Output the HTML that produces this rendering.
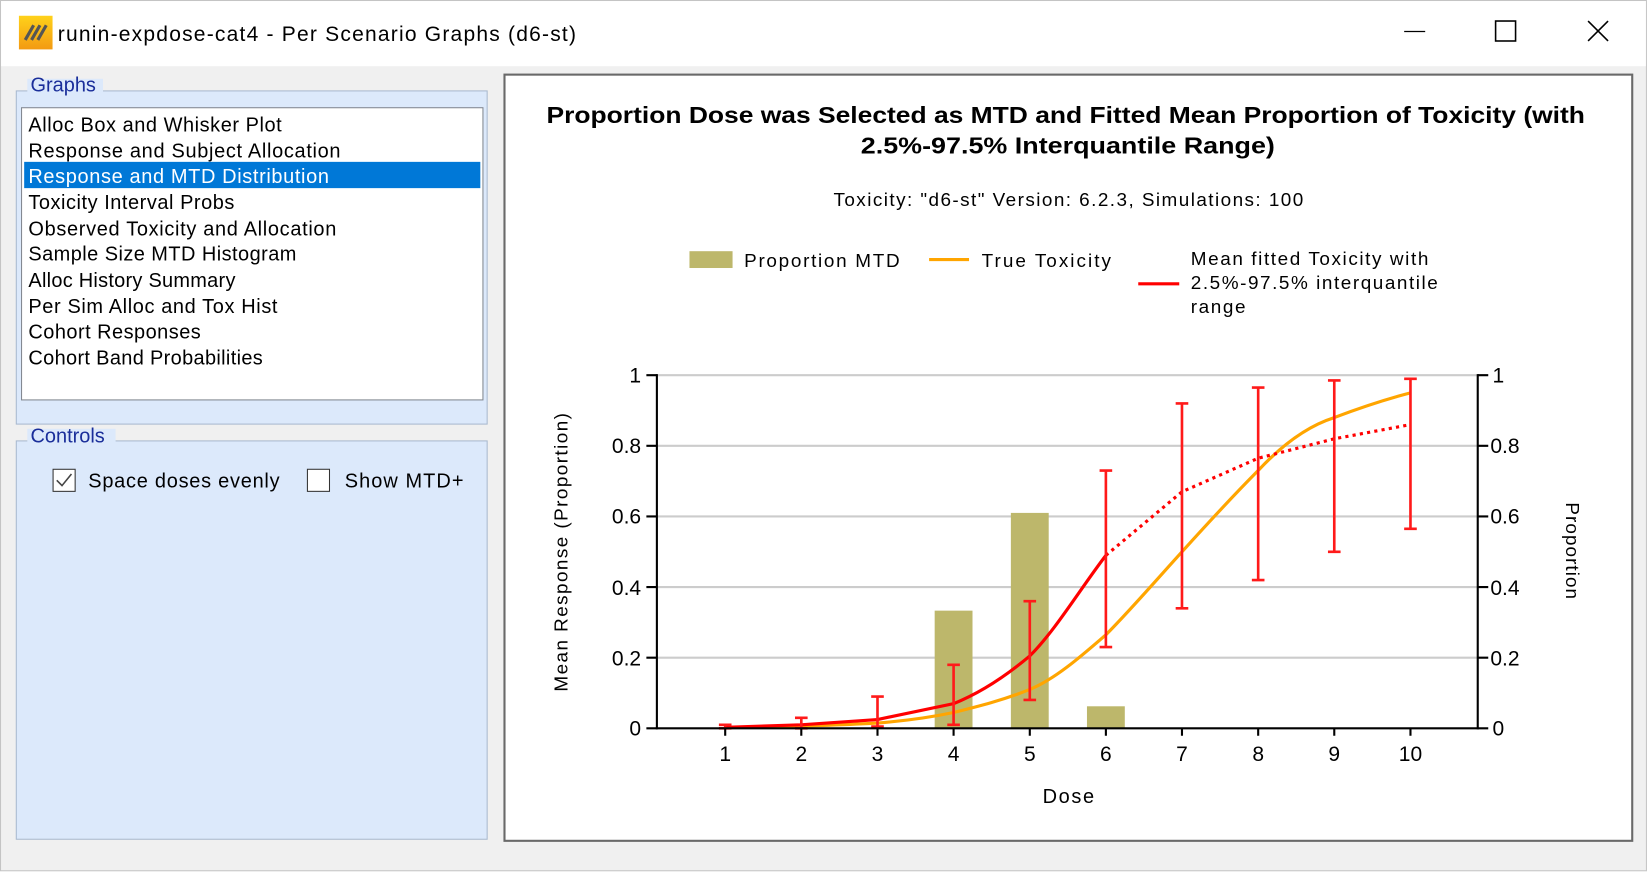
<!DOCTYPE html>
<html><head><meta charset="utf-8"><style>
html,body{margin:0;padding:0;width:1648px;height:872px;overflow:hidden;background:#fff;}
#w{position:absolute;left:0;top:0;width:1568px;height:830px;transform:scale(1.05102);transform-origin:0 0;font-family:"Liberation Sans",sans-serif;}
</style></head><body><div id="w">
<svg width="1568" height="830" viewBox="0 0 1568 830" xmlns="http://www.w3.org/2000/svg" font-family="Liberation Sans, sans-serif">
<rect x="0.5" y="0.5" width="1566" height="828" fill="#f0f0f0" stroke="#c4c4c4"/>
<rect x="1" y="1" width="1565" height="62" fill="#fff"/>
<defs><linearGradient id="ig" x1="0" y1="0" x2="0" y2="1"><stop offset="0" stop-color="#ffd21a"/><stop offset="1" stop-color="#f39a12"/></linearGradient></defs>
<rect x="18" y="15" width="32" height="32" fill="url(#ig)"/>
<path d="M24 38 L32 24 M30 38 L38 24 M36 38 L44 24" stroke="#555" stroke-width="3"/>
<text x="55" y="39" font-size="20" fill="#000" textLength="493">runin-expdose-cat4 - Per Scenario Graphs (d6-st)</text>
<line x1="1336" y1="30" x2="1356" y2="30" stroke="#000" stroke-width="1.2"/>
<rect x="1423" y="20" width="19" height="19" fill="none" stroke="#000" stroke-width="1.5"/>
<path d="M1511 20 L1530 39 M1530 20 L1511 39" stroke="#000" stroke-width="1.5"/>
<rect x="15.5" y="86.5" width="448" height="317" fill="#dce9fb" stroke="#a9b9cf"/>
<rect x="26" y="75" width="72" height="14" fill="#dce9fb"/>
<text x="29" y="87" font-size="19" fill="#1a2e9a">Graphs</text>
<rect x="20.5" y="102.5" width="439" height="278" fill="#fff" stroke="#828790"/>
<rect x="23" y="154" width="434" height="25" fill="#0078d7"/>
<g font-size="19" fill="#000">
<text x="27" y="125" textLength="241">Alloc Box and Whisker Plot</text>
<text x="27" y="150" textLength="297">Response and Subject Allocation</text>
<text x="27" y="174" fill="#fff" textLength="286">Response and MTD Distribution</text>
<text x="27" y="199" textLength="196">Toxicity Interval Probs</text>
<text x="27" y="224" textLength="293">Observed Toxicity and Allocation</text>
<text x="27" y="248" textLength="255">Sample Size MTD Histogram</text>
<text x="27" y="273" textLength="197">Alloc History Summary</text>
<text x="27" y="298" textLength="237">Per Sim Alloc and Tox Hist</text>
<text x="27" y="322" textLength="164">Cohort Responses</text>
<text x="27" y="347" textLength="223">Cohort Band Probabilities</text>
</g>
<rect x="15.5" y="419.5" width="448" height="379" fill="#dce9fb" stroke="#a9b9cf"/>
<rect x="26" y="408" width="84" height="14" fill="#dce9fb"/>
<text x="29" y="421" font-size="19" fill="#1a2e9a">Controls</text>
<rect x="50.5" y="446.5" width="21" height="21" fill="#fff" stroke="#333"/>
<path d="M54 457 L59 462 L68 451" stroke="#444" stroke-width="1.5" fill="none"/>
<text x="84" y="464" font-size="19" fill="#000" textLength="182">Space doses evenly</text>
<rect x="292.5" y="446.5" width="21" height="21" fill="#fff" stroke="#333"/>
<text x="328" y="464" font-size="19" fill="#000" textLength="113">Show MTD+</text>
<rect x="480" y="71" width="1073" height="729" fill="#fff" stroke="#696969" stroke-width="2"/>
<text x="520" y="117" font-size="22" font-weight="bold" textLength="988" lengthAdjust="spacingAndGlyphs">Proportion Dose was Selected as MTD and Fitted Mean Proportion of Toxicity (with</text>
<text x="819" y="146" font-size="22" font-weight="bold" textLength="394" lengthAdjust="spacingAndGlyphs">2.5%-97.5% Interquantile Range)</text>
<text x="793" y="196" font-size="18" textLength="447">Toxicity: "d6-st" Version: 6.2.3, Simulations: 100</text>
<rect x="656" y="239" width="41" height="16" fill="#bdb76b"/>
<text x="708" y="254" font-size="18" textLength="148">Proportion MTD</text>
<line x1="884" y1="247" x2="922" y2="247" stroke="#ffa500" stroke-width="3"/>
<text x="934" y="254" font-size="18" textLength="123">True Toxicity</text>
<line x1="1083" y1="270" x2="1122" y2="270" stroke="#ff0000" stroke-width="3"/>
<text x="1133" y="252" font-size="18" textLength="226">Mean fitted Toxicity with</text>
<text x="1133" y="275" font-size="18" textLength="235">2.5%-97.5% interquantile</text>
<text x="1133" y="298" font-size="18" textLength="52">range</text>
<g stroke="#cccccc" stroke-width="2">
<line x1="625" y1="357" x2="1406" y2="357"/><line x1="625" y1="424.2" x2="1406" y2="424.2"/>
<line x1="625" y1="491.4" x2="1406" y2="491.4"/><line x1="625" y1="558.6" x2="1406" y2="558.6"/>
<line x1="625" y1="625.8" x2="1406" y2="625.8"/>
</g>
<g fill="#bdb76b">
<rect x="889.3" y="581" width="36" height="112"/>
<rect x="961.8" y="488" width="36" height="205"/>
<rect x="1034.2" y="672" width="36" height="21"/>
</g>
<path d="M690 692.3 C714 692 738 691.6 762.4 691 C786 690 810 689.5 834.9 688 C859 686 883 683 907.3 677.9 C931 672 955 666 979.8 656 C1004 646 1028 625 1052.2 604 C1076 580 1100 552 1124.6 525 C1149 498 1173 472 1197.1 447.7 C1221 422 1245 405 1269.5 397.3 C1294 388 1318 380 1342 373.8" fill="none" stroke="#ffa500" stroke-width="3"/>
<path d="M690 692 L762.4 689.6 L834.9 684.6 L907.3 669.5 C931 660 955 645 979.8 624.1 C1004 600 1028 560 1052.2 528.4" fill="none" stroke="#ff0000" stroke-width="3"/>
<polyline points="1052.2,528.4 1124.6,467.9 1197.1,436 1269.5,417.5 1342,404" fill="none" stroke="#ff0000" stroke-width="3" stroke-dasharray="3,4"/>
<g stroke="#ff1a1a" stroke-width="2.5" fill="none">
<path d="M690 693V689.6M684 693H696M684 689.6H696"/>
<path d="M762.4 693V683M756.4 693H768.4M756.4 683H768.4"/>
<path d="M834.9 691.3V662.8M828.9 691.3H840.9M828.9 662.8H840.9"/>
<path d="M907.3 689.6V632.5M901.3 689.6H913.3M901.3 632.5H913.3"/>
<path d="M979.8 666V572M973.8 666H985.8M973.8 572H985.8"/>
<path d="M1052.2 615.7V447.7M1046.2 615.7H1058.2M1046.2 447.7H1058.2"/>
<path d="M1124.6 578.8V383.9M1118.6 578.8H1130.6M1118.6 383.9H1130.6"/>
<path d="M1197.1 551.9V368.8M1191.1 551.9H1203.1M1191.1 368.8H1203.1"/>
<path d="M1269.5 525V362M1263.5 525H1275.5M1263.5 362H1275.5"/>
<path d="M1342 503.2V360.4M1336 503.2H1348M1336 360.4H1348"/>
</g>
<g stroke="#000" stroke-width="2">
<line x1="625" y1="356" x2="625" y2="694"/>
<line x1="1406" y1="356" x2="1406" y2="694"/>
<line x1="624" y1="693" x2="1407" y2="693"/>
<path d="M615 357H625M615 424.2H625M615 491.4H625M615 558.6H625M615 625.8H625M615 693H625"/>
<path d="M1406 357H1416M1406 424.2H1416M1406 491.4H1416M1406 558.6H1416M1406 625.8H1416M1406 693H1416"/>
<path d="M690 693V700M762.4 693V700M834.9 693V700M907.3 693V700M979.8 693V700M1052.2 693V700M1124.6 693V700M1197.1 693V700M1269.5 693V700M1342 693V700"/>
</g>
<g font-size="20" text-anchor="end">
<text x="610" y="364">1</text><text x="610" y="431">0.8</text><text x="610" y="498">0.6</text>
<text x="610" y="566">0.4</text><text x="610" y="633">0.2</text><text x="610" y="700">0</text>
</g>
<g font-size="20">
<text x="1420" y="364">1</text><text x="1418" y="431">0.8</text><text x="1418" y="498">0.6</text>
<text x="1418" y="566">0.4</text><text x="1418" y="633">0.2</text><text x="1420" y="700">0</text>
</g>
<g font-size="20" text-anchor="middle">
<text x="690" y="724">1</text><text x="762.4" y="724">2</text><text x="834.9" y="724">3</text>
<text x="907.3" y="724">4</text><text x="979.8" y="724">5</text><text x="1052.2" y="724">6</text>
<text x="1124.6" y="724">7</text><text x="1197.1" y="724">8</text><text x="1269.5" y="724">9</text>
<text x="1342" y="724">10</text>
</g>
<text x="992" y="764" font-size="19" textLength="49">Dose</text>
<text transform="translate(540,658) rotate(-90)" font-size="18" textLength="265">Mean Response (Proportion)</text>
<text transform="translate(1490,478) rotate(90)" font-size="18" textLength="92">Proportion</text>
</svg>
</div></body></html>
